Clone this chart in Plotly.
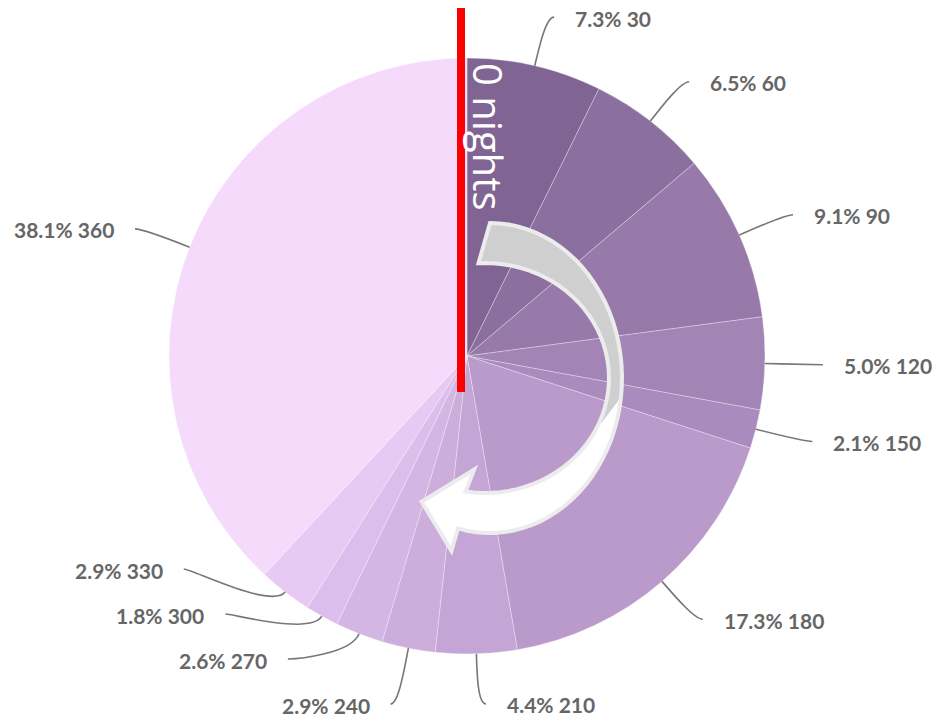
import math
import plotly.graph_objects as go

# Length-of-stay buckets (nights) and their share of guests (%)
nights = ["30", "60", "90", "120", "150", "180", "210", "240", "270", "300", "330", "360"]
shares = [7.3, 6.5, 9.1, 5.0, 2.1, 17.3, 4.4, 2.9, 2.6, 1.8, 2.9, 38.1]
slice_colors = ["#806494", "#8b6f9f", "#977aaa", "#a284b5", "#ab8bbd", "#b99acb",
                "#c4a5d6", "#ccaddc", "#d4b6e4", "#dcbeec", "#e7c9f4", "#f5dafc"]
start_label = "0 nights"

# Canvas and pie geometry (pixels)
W, H = 942, 728
CX, CY, R = 467, 356, 298


def px(x):
    return x / W


def py(y):
    return 1 - y / H


fig = go.Figure(go.Pie(
    labels=nights, values=shares, sort=False,
    direction="clockwise", rotation=0,
    marker=dict(colors=slice_colors, line=dict(color="rgba(255,255,255,0.3)", width=1)),
    textinfo="none", hoverinfo="skip",
    domain=dict(x=[px(CX - R), px(CX + R)], y=[py(CY + R), py(CY - R)]),
))

# ---- outside labels with curved leader lines ----
LABEL_R = R + 50     # ring the labels sit on
GAP = 45             # minimum vertical spacing between labels on one side
KNEE = 8             # horizontal run of a leader line before the text
PAD = 19             # space between leader line end and text
total = sum(shares)

mids = []
acc = 0.0
for v in shares:
    mids.append(math.radians((acc + v / 2) / total * 360))
    acc += v


def spread(ys, gap, lo, hi):
    """Push label positions apart so they keep at least `gap` between them."""
    order = sorted(range(len(ys)), key=lambda i: ys[i])
    blocks = []
    for i in order:
        blocks.append([ys[i], [i]])
        while True:
            b = blocks[-1]
            n = len(b[1])
            mean = sum(ys[j] for j in b[1]) / n
            start = mean - gap * (n - 1) / 2
            start = min(max(start, lo), hi - gap * (n - 1))
            b[0] = start
            if len(blocks) > 1:
                p = blocks[-2]
                pend = p[0] + gap * (len(p[1]) - 1)
                if start < pend + gap:
                    p[1].extend(b[1])
                    blocks.pop()
                    continue
            break
    out = [0.0] * len(ys)
    for start, idxs in blocks:
        for k, j in enumerate(idxs):
            out[j] = start + k * gap
    return out


label_y = [0.0] * len(shares)
for side in (1, -1):
    idx = [i for i, a in enumerate(mids) if (1 if math.sin(a) >= 0 else -1) == side]
    natural = [CY - LABEL_R * math.cos(mids[i]) for i in idx]
    placed = spread(natural, GAP, CY - LABEL_R, CY + LABEL_R)
    for i, y in zip(idx, placed):
        label_y[i] = y

shapes = []
annotations = []
for i, a in enumerate(mids):
    side = 1 if math.sin(a) >= 0 else -1
    y = label_y[i]
    dy = y - CY
    reach = max(abs(LABEL_R * math.sin(a)), math.sqrt(max(LABEL_R ** 2 - dy ** 2, 0)))
    ex = CX + side * (reach + KNEE)
    p0 = (CX + R * math.sin(a), CY - R * math.cos(a))
    c1 = (p0[0] + 22 * math.sin(a), p0[1] - 22 * math.cos(a))
    knee = (ex - side * KNEE, y)
    path = (f"M {px(p0[0])},{py(p0[1])} C {px(c1[0])},{py(c1[1])} "
            f"{px(knee[0])},{py(knee[1])} {px(ex)},{py(y)}")
    shapes.append(dict(type="path", path=path, xref="paper", yref="paper",
                       line=dict(color="#777777", width=1.6), layer="above"))
    pct = shares[i] / total * 100
    annotations.append(dict(
        text=f"{pct:.1f}% {nights[i]}", x=px(ex + side * PAD), y=py(y + 1),
        xref="paper", yref="paper", showarrow=False,
        xanchor="left" if side == 1 else "right", yanchor="middle",
        font=dict(family="Lato", size=21, color="#666666", weight="bold"),
    ))

# ---- start marker: red line from the top into the centre ----
shapes.append(dict(type="line", xref="paper", yref="paper",
                   x0=px(CX - 6), x1=px(CX - 6), y0=py(8), y1=py(CY + 36),
                   line=dict(color="#ff0000", width=8), layer="above"))
annotations.append(dict(
    text=start_label, x=px(CX + 22), y=py(136), xref="paper", yref="paper",
    showarrow=False, textangle=90, xanchor="center", yanchor="middle",
    font=dict(family="Open Sans", size=40, color="white"),
))

# ---- curved arrow showing the clockwise reading direction ----
OUTER = (490, 378, 132, 155)
INNER = (485, 378, 124, 115)


def ell(e, phi):
    ex_, ey_, rx, ry = e
    t = math.radians(phi)
    return ex_ + rx * math.sin(t), ey_ - ry * math.cos(t)


def arc(e, a0, a1, n=48):
    return [ell(e, a0 + (a1 - a0) * k / n) for k in range(n + 1)]


def to_path(pts):
    s = "M " + " L ".join(f"{px(x)},{py(y)}" for x, y in pts)
    return s + " Z"


o_end, i_end = 194, 189
ob = ell(OUTER, o_end)
ib = ell(INNER, i_end)
mx, my = (ob[0] + ib[0]) / 2, (ob[1] + ib[1]) / 2
bl = math.hypot(ob[0] - ib[0], ob[1] - ib[1])
vx, vy = (ob[0] - ib[0]) / bl, (ob[1] - ib[1]) / bl
ux, uy = -vy, vx
barb_out = (mx + 2 * ux + 42 * vx, my + 2 * uy + 42 * vy)
tip = (mx + 41 * ux, my + 41 * uy)
barb_in = (mx - 4 * ux - 42 * vx, my - 4 * uy - 42 * vy)
head = [barb_out, tip, barb_in]

seam_o, seam_i = 97, 118
grey_part = arc(OUTER, 0, seam_o) + arc(INNER, seam_i, -3)
white_part = arc(OUTER, seam_o, o_end) + head + arc(INNER, i_end, seam_i)
outline = arc(OUTER, 0, o_end) + head + arc(INNER, i_end, -3)

shapes.append(dict(type="path", path=to_path(grey_part), xref="paper", yref="paper",
                   fillcolor="#cfcfcf", line=dict(width=0), layer="above"))
shapes.append(dict(type="path", path=to_path(white_part), xref="paper", yref="paper",
                   fillcolor="#ffffff", line=dict(width=0), layer="above"))
shapes.append(dict(type="path", path=to_path(outline), xref="paper", yref="paper",
                   fillcolor="rgba(0,0,0,0)", line=dict(color="#ececec", width=4),
                   layer="above"))

fig.update_layout(
    width=W, height=H, margin=dict(l=0, r=0, t=0, b=0),
    paper_bgcolor="white", plot_bgcolor="white", showlegend=False,
    shapes=shapes, annotations=annotations,
)

fig.write_html("out.html")
